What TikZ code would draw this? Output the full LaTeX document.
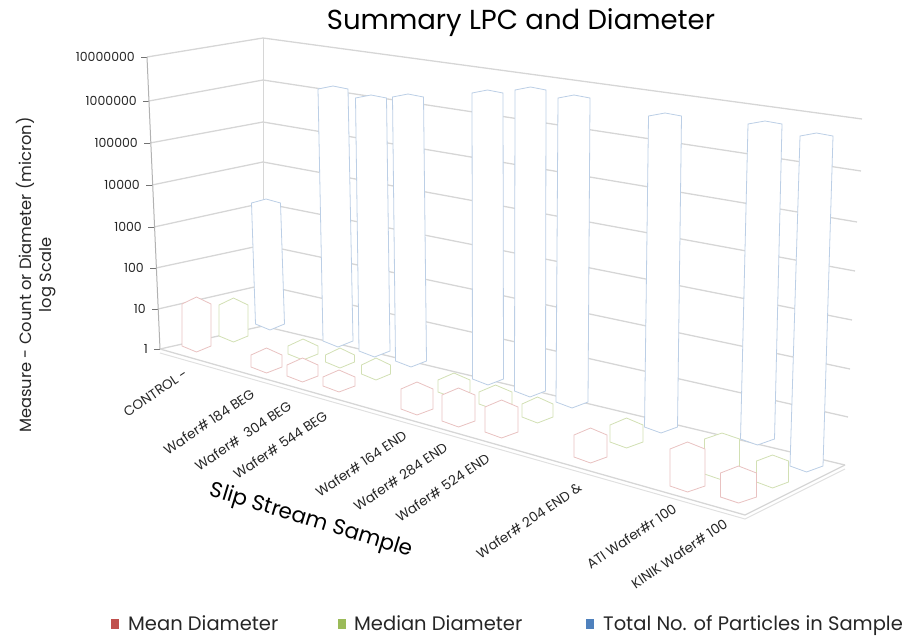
\documentclass[tikz,border=0pt]{standalone}
\usepackage{fontspec}
\setmainfont{Poppins}
\definecolor{cr}{HTML}{C0504D}
\definecolor{cg}{HTML}{9BBB59}
\definecolor{cb}{HTML}{4F81BD}
% style, cx top, cx bottom, y top, y bottom, half width, top depth
\newcommand\hcol[7]{%
  \draw[#1] ({#2-#6},{#4+#7}) -- (#2,#4) -- ({#2+#6},{#4+#7}) -- ({#3+#6},{#5-6}) -- (#3,#5) -- ({#3-#6},{#5-6}) -- cycle;}
\begin{document}
\begin{tikzpicture}[x=1pt,y=-1pt,
  gl/.style={black!16,line width=1.3pt},
  ax/.style={black!30,line width=1pt},
  tk/.style={black!55,line width=0.8pt},
  tl/.style={font=\fontsize{12.5}{14}\selectfont,text=black!85,inner sep=0pt},
  cl/.style={font=\fontsize{13.5}{15}\selectfont,text=black!85,inner sep=0pt,rotate=34,anchor=east},
  rc/.style={fill=white,draw=cr!35,line width=0.8pt},
  gc/.style={fill=white,draw=cg!45,line width=0.8pt},
  bc/.style={fill=white,draw=cb!38,line width=0.8pt},
  lg/.style={font=\fontsize{19.5}{22}\selectfont,text=black!85,inner sep=0pt,anchor=base west}]
\useasboundingbox (0,0) rectangle (917,637);
% walls: gridlines
\foreach \i/\lx/\ly/\cy/\rx/\ry/\lab in {0/160/349/326/845/465/1, 1/158/309/285/848/417/10, 2/156/268/245/850/369/100, 3/154/227/203/852/320/1000, 4/152/185/162/855/271/10000, 5/150/143/122/857/222/100000, 6/149/101/80/861/171/1000000, 7/147/57/38/862/119/10000000}{
  \draw[gl] (\lx,\ly) -- (263,\cy) -- (\rx,\ry);
  \draw[tk] ({\lx-6},\ly) -- (\lx,\ly);
  \node[tl,anchor=east] (tick\i) at ({\lx-12},\ly) {\lab};
}
\draw[ax] (160,349) -- (147,57);
\draw[gl,line width=1pt] (263,326) -- (263,38);
% floor slab
\draw[gl] (160,349) -- (745,515) -- (845,465);
\draw[black!12,line width=1pt] (160,353) -- (745,519) -- (845,469);
% columns, back to front
\hcol{bc}{266}{270}{199}{330}{14.5}{4}
\hcol{gc}{233.5}{233.5}{298}{342}{14.5}{7}
\hcol{bc}{333}{338}{86}{347}{15}{3}
\hcol{rc}{196.5}{196.5}{297}{352}{14.5}{7}
\hcol{bc}{371}{374.5}{95}{357}{15.5}{3}
\hcol{gc}{303}{303}{339}{360}{15}{7}
\hcol{bc}{408}{411}{94}{367}{15.5}{3}
\hcol{gc}{340}{340}{348}{368}{14.5}{7}
\hcol{rc}{266.5}{266.5}{348}{373}{15.5}{7}
\hcol{gc}{376}{376}{358}{380}{14.5}{7}
\hcol{rc}{302.5}{302.5}{358}{382}{15.5}{7}
\hcol{bc}{487.5}{488}{90}{385}{15.5}{3}
\hcol{rc}{339}{339}{370}{392}{16}{7}
\hcol{bc}{530.5}{530}{87}{397}{15.5}{3}
\hcol{gc}{454}{454}{373}{398}{16}{7}
\hcol{bc}{574}{572}{95}{408}{16}{3}
\hcol{gc}{495.5}{495.5}{385}{410}{16.5}{7}
\hcol{rc}{417}{417}{382}{415}{16}{7}
\hcol{gc}{537.5}{537.5}{397}{423}{15.5}{7}
\hcol{rc}{458.5}{458.5}{388}{427}{16.5}{7}
\hcol{bc}{665}{661}{113}{433}{16.5}{3}
\hcol{rc}{501.5}{501.5}{400}{438}{16.5}{7}
\hcol{bc}{765}{757.5}{121}{445}{17}{3}
\hcol{gc}{626.5}{626.5}{418}{448}{16.5}{7}
\hcol{rc}{590.5}{590.5}{428}{463}{16.5}{7}
\hcol{bc}{816.5}{806.5}{133}{472}{16.5}{3}
\hcol{gc}{722}{722}{433}{480}{17.5}{6}
\hcol{gc}{772.5}{772.5}{455}{488}{16}{6}
\hcol{rc}{687.5}{687.5}{442}{492}{17.5}{7}
\hcol{rc}{738.5}{738.5}{466}{503}{18}{7}
% title
\node[font=\fontsize{27.5}{30}\selectfont,inner sep=0pt,anchor=base] (title) at (521,29) {Summary LPC and Diameter};
% value axis title
\node[rotate=90,align=center,font=\fontsize{16.3}{20}\selectfont,text=black!85,inner sep=0pt] (ytitle) at (36,275) {Measure - Count or Diameter (micron)\\log Scale};
% category labels
\node[cl] (c1) at (186,372) {CONTROL -};
\node[cl] (c2) at (253,392) {Wafer\# 184 BEG};
\node[cl] (c3) at (290,404) {Wafer\#\ \ 304 BEG};
\node[cl] (c4) at (326,414) {Wafer\# 544 BEG};
\node[cl] (c5) at (405,434) {Wafer\# 164 END};
\node[cl] (c6) at (446,446) {Wafer\# 284 END};
\node[cl] (c7) at (488,457) {Wafer\# 524 END};
\node[cl] (c8) at (580,486) {Wafer\# 204 END \&};
\node[cl] (c9) at (675,507) {ATI Wafer\#r 100};
\node[cl] (c10) at (726,522) {KINIK Wafer\# 100};
\node[rotate=-17,font=\fontsize{21.5}{24}\selectfont,inner sep=0pt] (xtitle) at (311,521) {Slip Stream Sample};
% legend
\fill[cr] (111,619) rectangle (119,629);
\node[lg] (l1) at (128,630) {Mean Diameter};
\fill[cg] (338,619) rectangle (346,629);
\node[lg] (l2) at (354,630) {Median Diameter};
\fill[cb] (586,619) rectangle (594,629);
\node[lg] (l3) at (603,630) {Total No. of Particles in Sample};
\end{tikzpicture}
\end{document}
